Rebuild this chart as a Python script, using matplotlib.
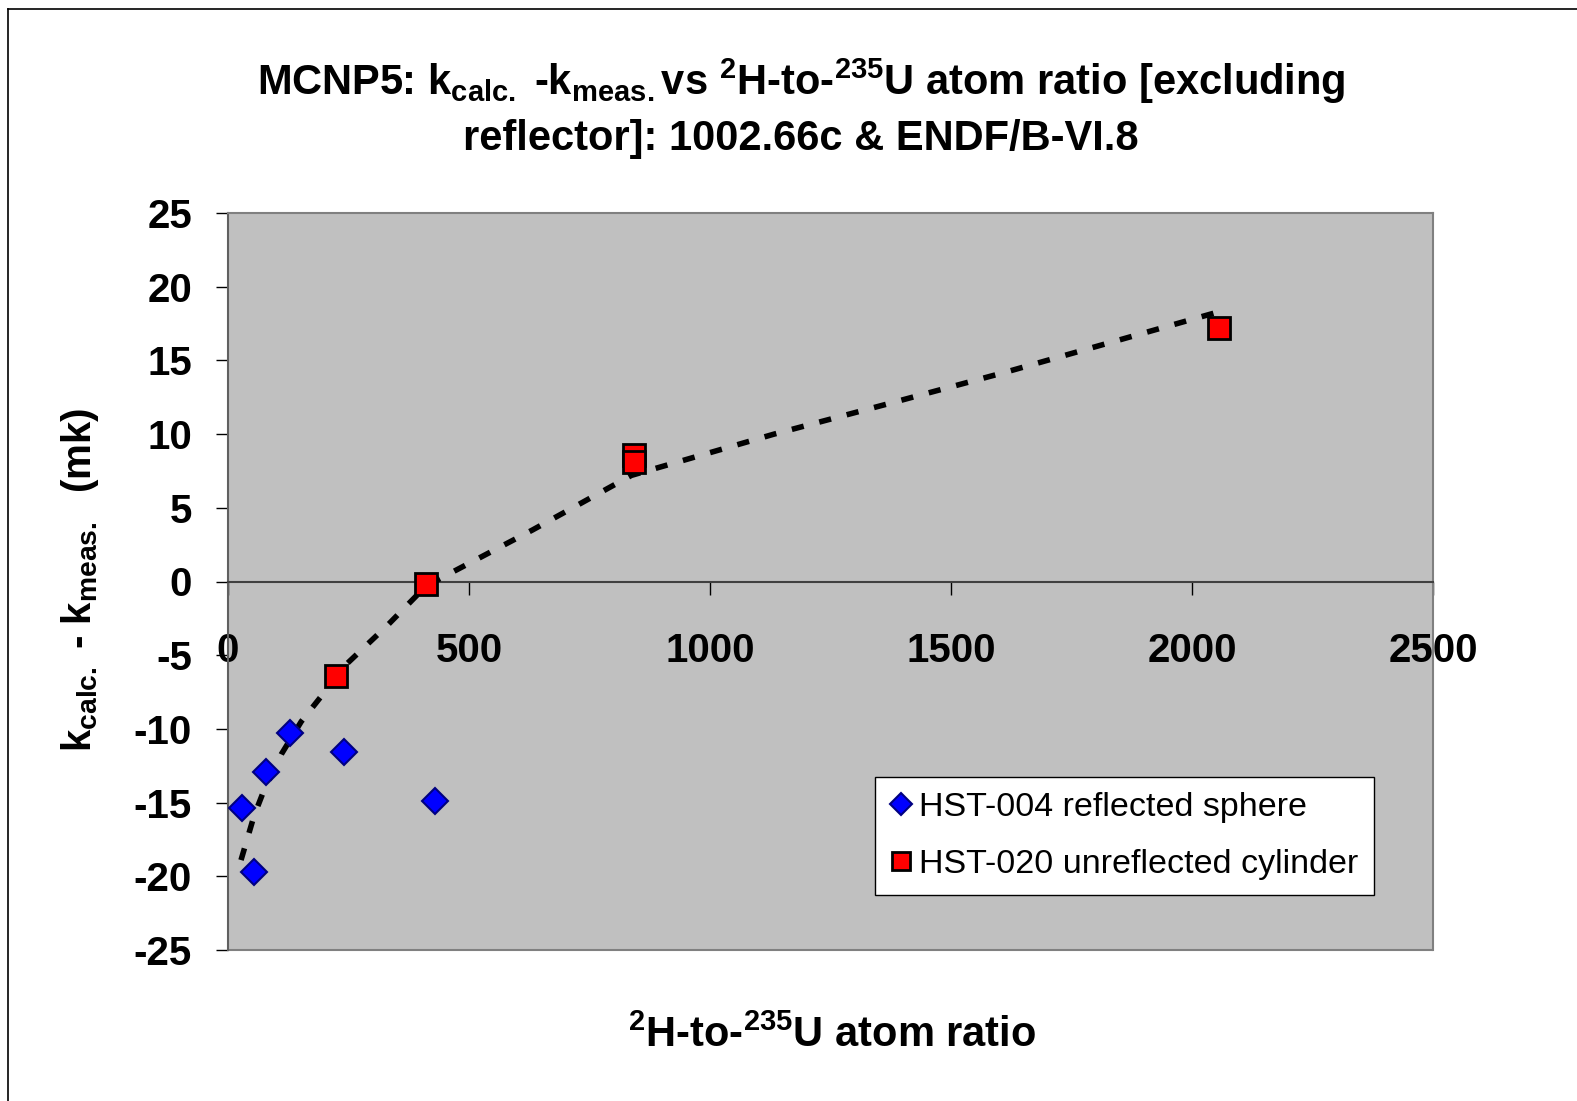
import matplotlib
matplotlib.use("Agg")
import matplotlib.pyplot as plt
from matplotlib.lines import Line2D
from matplotlib.patches import Rectangle

plt.rcParams['font.family'] = ['Liberation Sans', 'DejaVu Sans']
plt.rcParams['mathtext.fontset'] = 'custom'
plt.rcParams['mathtext.rm'] = 'Liberation Sans:bold'
plt.rcParams['mathtext.bf'] = 'Liberation Sans:bold'
plt.rcParams['mathtext.default'] = 'rm'
plt.rcParams['axes.unicode_minus'] = False

# data
hst004_x = [29, 54, 79, 129, 240, 430]
hst004_y = [-15.4, -19.7, -12.9, -10.3, -11.6, -14.9]
hst020_x = [225, 411, 843, 843, 2056]
hst020_y = [-6.4, -0.2, 8.6, 8.1, 17.2]
trend_x = [27, 54, 73, 111, 152, 198, 246, 330, 411, 632, 837, 1133, 1363, 1613, 2045]
trend_y = [-18.9, -15.9, -14.3, -11.7, -9.5, -7.6, -5.6, -3.0, -0.3, 3.5, 7.2, 10.0, 12.0, 14.2, 18.2]
xticks = [0, 500, 1000, 1500, 2000, 2500]
yticks = [-25, -20, -15, -10, -5, 0, 5, 10, 15, 20, 25]

W, H = 1577, 1101
fig = plt.figure(figsize=(W / 100, H / 100), dpi=100)
fig.patch.set_facecolor('white')

# outer frame (top and left)
fig.add_artist(Line2D([8 / W, 1.0], [1 - 9 / H, 1 - 9 / H], color='black', lw=1.2, transform=fig.transFigure))
fig.add_artist(Line2D([8 / W, 8 / W], [0, 1 - 9 / H], color='black', lw=1.2, transform=fig.transFigure))

ax = fig.add_axes([228 / W, 1 - 950 / H, (1433 - 228) / W, (950 - 213) / H])
ax.set_facecolor('#C0C0C0')

ax.plot(trend_x, trend_y, color='black', lw=4.0, linestyle=(0, (2.2, 2.9)), zorder=3)
ax.plot(hst004_x, hst004_y, linestyle='none', marker='D', markersize=13.5,
        markerfacecolor='#0000FF', markeredgecolor='#000080', markeredgewidth=1.5,
        label='HST-004 reflected sphere', zorder=4)
ax.plot(hst020_x, hst020_y, linestyle='none', marker='s', markersize=16,
        markerfacecolor='#FF0000', markeredgecolor='black', markeredgewidth=2,
        label='HST-020 unreflected cylinder', zorder=4)

ax.set_xlim(0, 2500)
ax.set_ylim(-25, 25)
ax.set_xticks(xticks)
ax.set_yticks(yticks)

for s in ['top', 'right']:
    ax.spines[s].set_color('#808080')
    ax.spines[s].set_linewidth(1.5)
ax.spines['left'].set_color('#606060')
ax.spines['left'].set_linewidth(1.5)
ax.spines['bottom'].set_position(('data', 0))
ax.spines['bottom'].set_color('#404040')
ax.spines['bottom'].set_linewidth(1.5)
ax.add_patch(Rectangle((0, 0), 1, 0, transform=ax.transAxes, fill=False,
                       edgecolor='#808080', lw=1.5, clip_on=False))

ax.tick_params(axis='x', direction='out', length=9, width=1, color='black', pad=27,
               labelsize=29)
ax.tick_params(axis='y', direction='out', length=9, width=1, color='black', pad=17,
               labelsize=29)
for lab in ax.get_xticklabels() + ax.get_yticklabels():
    lab.set_fontweight('bold')

fig.text(801 / W, 1 - 108 / H,
         "MCNP5: k$_{calc.}$ -k$_{meas.}$vs $^{2}$H-to-$^{235}$U atom ratio [excluding\n"
         "reflector]: 1002.66c & ENDF/B-VI.8",
         ha='center', va='center', fontsize=30, fontweight='bold', linespacing=1.4)

fig.text(80 / W, 1 - 580 / H, "k$_{calc.}$ - k$_{meas.}$  (mk)", rotation=90,
         ha='center', va='center', fontsize=29, fontweight='bold')

fig.text(832 / W, 1 - 1036 / H, "$^{2}$H-to-$^{235}$U atom ratio",
         ha='center', va='center', fontsize=30, fontweight='bold')

leg = ax.legend(loc='upper left', bbox_to_anchor=((875 - 228) / (1433 - 228), (950 - 777) / (950 - 213)),
                frameon=True, fancybox=False, framealpha=1, edgecolor='black',
                fontsize=24.5, handlelength=0.6, handletextpad=0.25, borderpad=0.45,
                labelspacing=0.75, borderaxespad=0, markerscale=0.85)
leg.get_frame().set_linewidth(1)

fig.savefig('out.png', dpi=100)
